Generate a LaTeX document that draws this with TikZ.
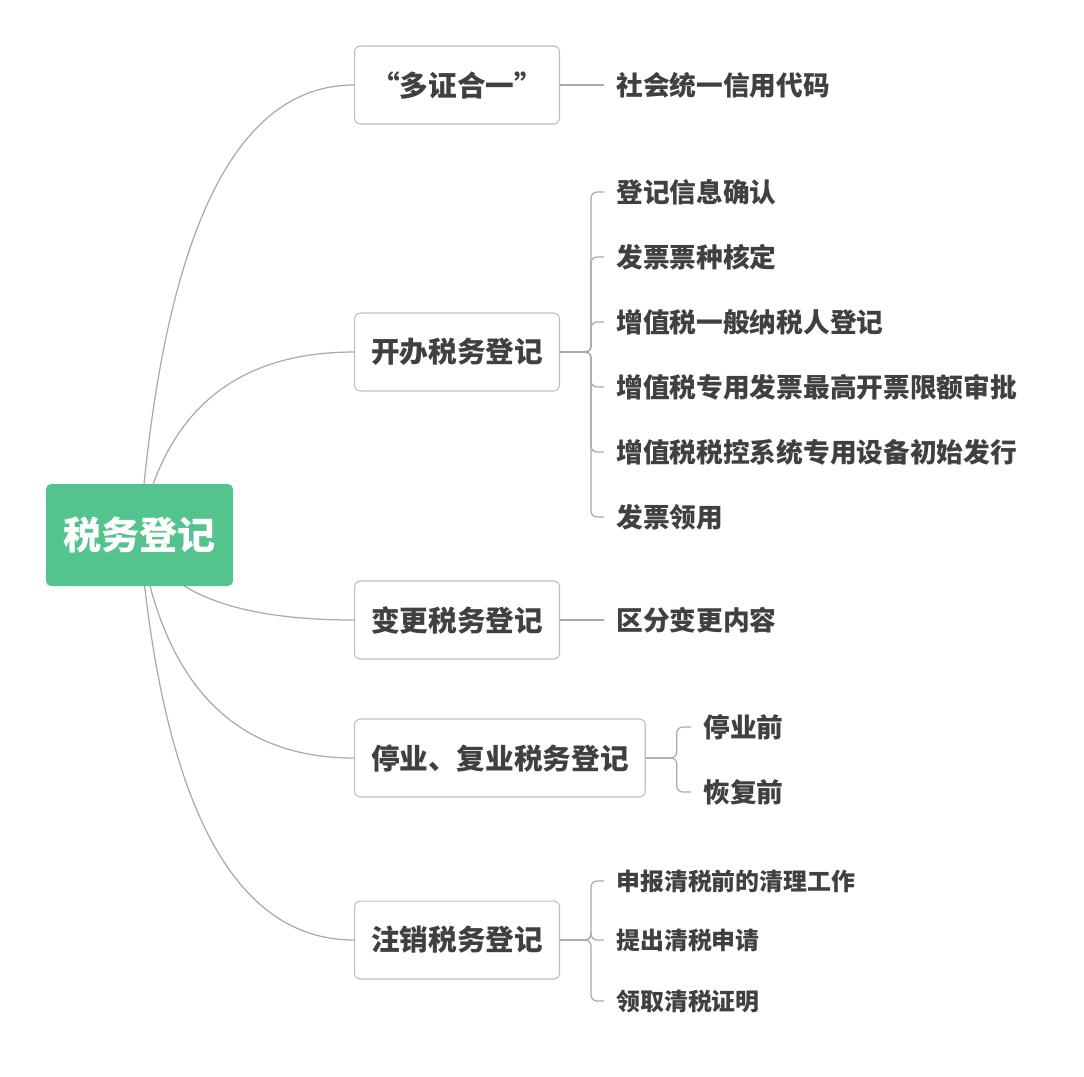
\documentclass[tikz,border=0pt]{standalone}
\usepackage{fontspec}
\setmainfont{Noto Sans CJK SC}
\usepackage{tikz}
\usetikzlibrary{backgrounds}
\definecolor{xmGreen}{RGB}{82, 196, 140}
\definecolor{xmText}{RGB}{64, 64, 64}
\definecolor{xmLine}{RGB}{170, 170, 170}
\definecolor{xmBorder}{RGB}{190, 190, 190}
\tikzset{
  rootbox/.style={rectangle, fill=xmGreen, text=white,
                  minimum width=3.74cm, minimum height=2.04cm,
                  rounded corners=0.1cm, font=\fontsize{21.7}{24}\selectfont\bfseries},
  topicbox/.style={rectangle, draw=xmBorder, fill=white, line width=0.6pt,
                   minimum width=4.1cm, minimum height=1.56cm, inner xsep=0.33cm,
                   anchor=west, rounded corners=0.12cm, text=xmText,
                   font=\fontsize{16.3}{19}\selectfont\bfseries},
  leaf/.style={anchor=west, inner xsep=0.24cm, inner ysep=2pt, text=xmText,
               font=\fontsize{15.2}{18}\selectfont\bfseries},
  leafS/.style={leaf, font=\fontsize{13.6}{16}\selectfont\bfseries},
  link/.style={draw=xmLine, line width=0.7pt},
}

\begin{document}
\begin{tikzpicture}[x=0.02cm, y=-0.02cm]
    \useasboundingbox (0,0) rectangle (1084,1076);

    % Centre topic
    \node[rootbox] (R) at (139.5,535) {税务登记};

    % Main topics
    \node[topicbox] (T1) at (354,85) {“多证合一”};
    \node[topicbox] (T2) at (354,352) {开办税务登记};
    \node[topicbox] (T3) at (354,620) {变更税务登记};
    \node[topicbox] (T4) at (354,758) {停业、复业税务登记};
    \node[topicbox] (T5) at (354,940) {注销税务登记};

    % Subtopics
    \node[leaf] (S11) at (604,85) {社会统一信用代码};

    \node[leaf] (S21) at (604,192) {登记信息确认};
    \node[leaf] (S22) at (604,257) {发票票种核定};
    \node[leaf] (S23) at (604,322) {增值税一般纳税人登记};
    \node[leaf] (S24) at (604,387) {增值税专用发票最高开票限额审批};
    \node[leaf] (S25) at (604,452) {增值税税控系统专用设备初始发行};
    \node[leaf] (S26) at (604,517) {发票领用};

    \node[leaf] (S31) at (604,620) {区分变更内容};

    \node[leaf] (S41) at (691,727) {停业前};
    \node[leaf] (S42) at (691,792) {恢复前};

    \node[leafS] (S51) at (604,881) {申报清税前的清理工作};
    \node[leafS] (S52) at (604,940) {提出清税申请};
    \node[leafS] (S53) at (604,1001) {领取清税证明};

    % Curves from the centre
    \begin{scope}[on background layer]
      \fill[white] (0,0) rectangle (1084,1076);
      \draw[link] (R.center) .. controls +(23,-300) and +(-120,0) .. (T1.west);
      \draw[link] (R.center) .. controls +(23,-122) and +(-120,0) .. (T2.west);
      \draw[link] (R.center) .. controls +(23,57) and +(-120,0) .. (T3.west);
      \draw[link] (R.center) .. controls +(23,149) and +(-120,0) .. (T4.west);
      \draw[link] (R.center) .. controls +(23,270) and +(-120,0) .. (T5.west);
    \end{scope}

    % Brackets
    \draw[link] (T1.east) -- (S11.west);
    \foreach \s in {S21,S22,S23,S24,S25,S26}
      \draw[link, rounded corners=0.12cm] (T2.east) -- ++(31,0) |- (\s.west);
    \draw[link] (T3.east) -- (S31.west);
    \foreach \s in {S41,S42}
      \draw[link, rounded corners=0.12cm] (T4.east) -- ++(31,0) |- (\s.west);
    \foreach \s in {S51,S52,S53}
      \draw[link, rounded corners=0.12cm] (T5.east) -- ++(31,0) |- (\s.west);
\end{tikzpicture}
\end{document}
